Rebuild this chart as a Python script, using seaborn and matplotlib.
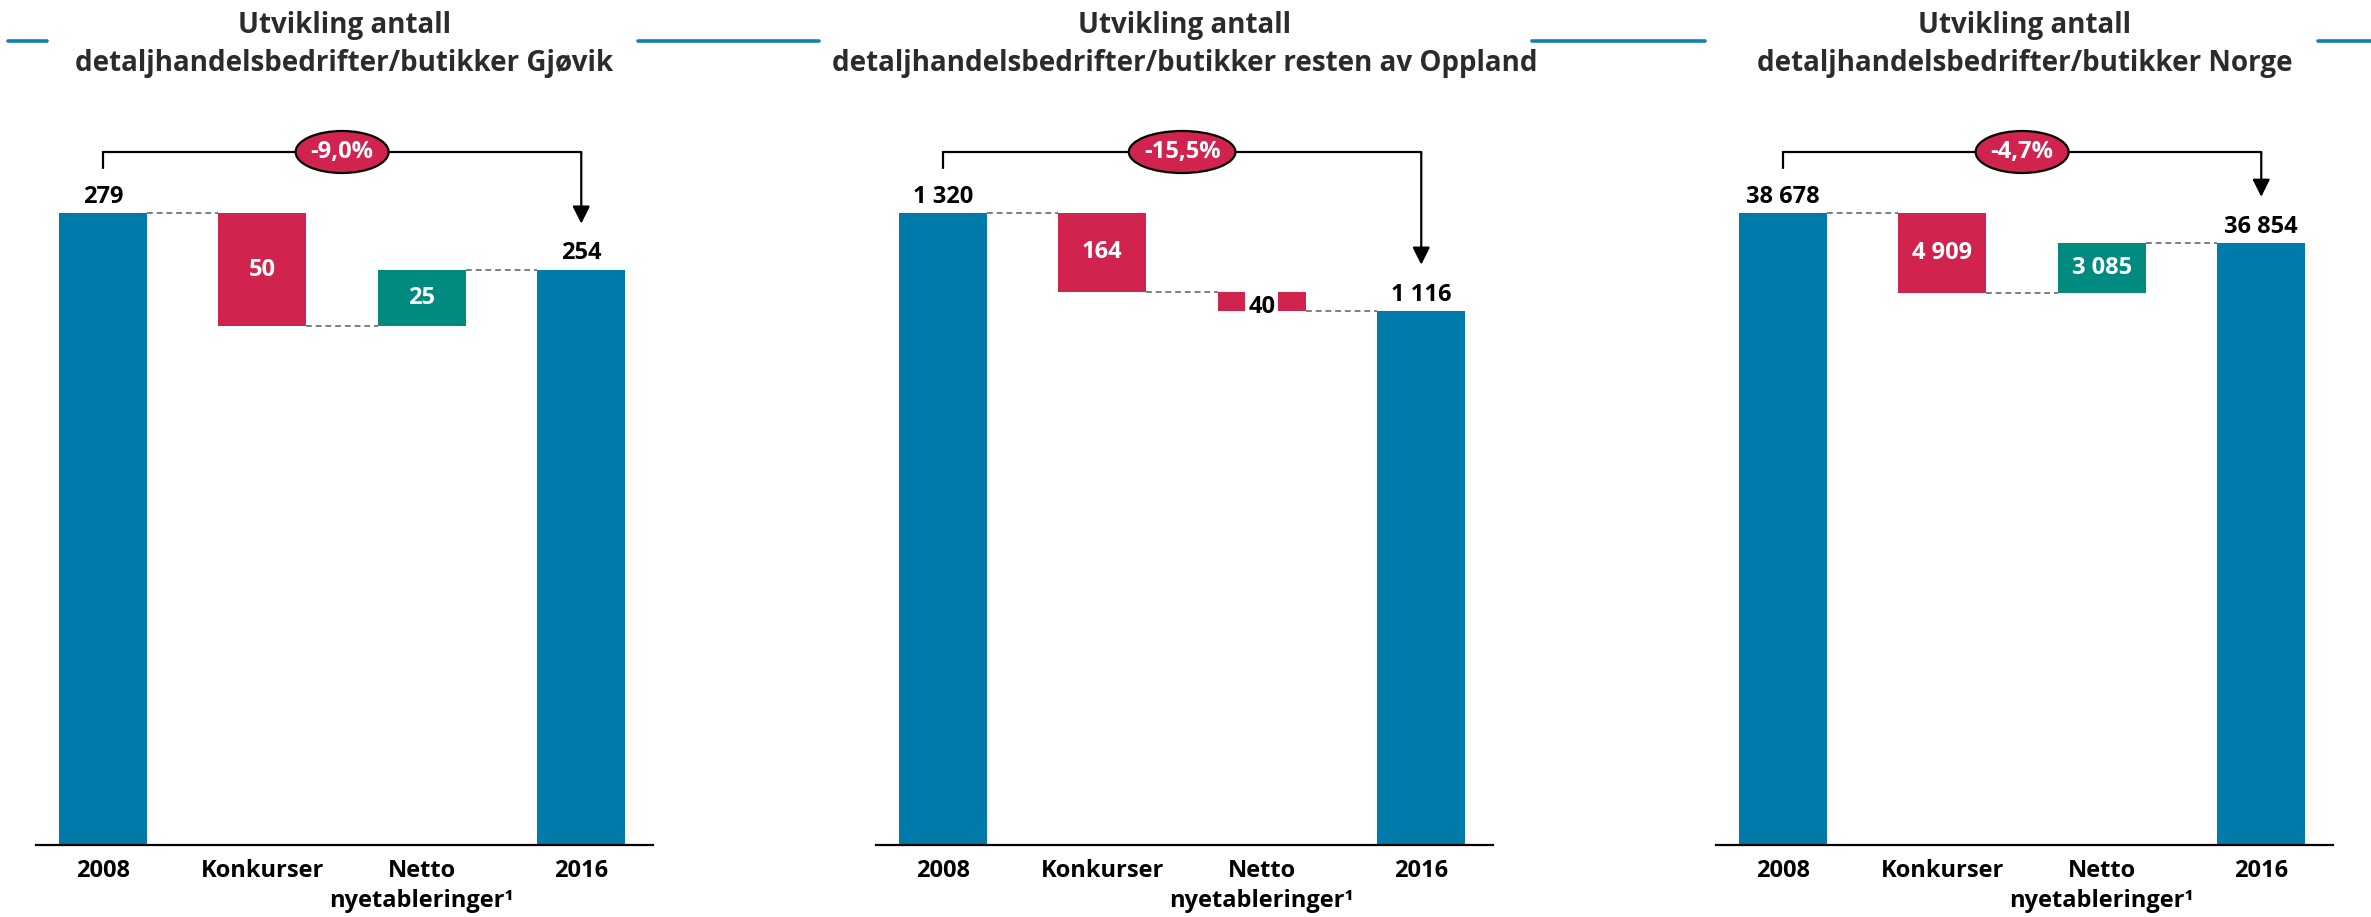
import numpy as np
import pandas as pd
import matplotlib
matplotlib.use("Agg")
import matplotlib.pyplot as plt
from matplotlib.lines import Line2D
from matplotlib.patches import Ellipse
from matplotlib.transforms import IdentityTransform
import seaborn as sns

# -----------------------------
cats = ["2008", "Konkurser", "Netto\nnyetableringer\u00b9", "2016"]
title_top = ["Utvikling antall"] * 3
title_bottom = ["detaljhandelsbedrifter/butikker Gj\u00f8vik",
                "detaljhandelsbedrifter/butikker resten av Oppland",
                "detaljhandelsbedrifter/butikker Norge"]
start_vals = [279, 1320, 38678]
konkurs_vals = [50, 164, 4909]
netto_vals = [25, -40, 3085]
end_vals = [254, 1116, 36854]
pct_labels = ["-9,0%", "-15,5%", "-4,7%"]

BLUE = "#007aa8"
RED = "#d0244e"
TEAL = "#008a80"
HEAD = "#0b82b3"
FONT = "Open Sans"
FS = 17

sns.set_theme(style="white")
plt.rcParams['font.family'] = [FONT, 'DejaVu Sans']
plt.rcParams['font.weight'] = 'bold'

W, H = 2371, 917
fig = plt.figure(figsize=(W / 100, H / 100), dpi=100)
renderer = fig.canvas.get_renderer()

def fmt(v):
    return f"{abs(v):,}".replace(",", " ")

ax_left0, ax_w, step = 36, 617, 840
base_px, top_px, bar_top_px = 845, 100, 213
bw = 0.552

for k in range(3):
    s, kon, net, e = start_vals[k], konkurs_vals[k], netto_vals[k], end_vals[k]
    after_kon = s - kon
    tops = [s, s, max(after_kon, e), e]
    bottoms = [0, after_kon, min(after_kon, e), 0]
    colors = [BLUE, RED, TEAL if net > 0 else RED, BLUE]
    df = pd.DataFrame({"cat": cats, "top": tops, "bottom": bottoms})

    left = (ax_left0 + k * step) / W
    ax = fig.add_axes([left, 1 - base_px / H, ax_w / W, (base_px - top_px) / H])
    sns.barplot(data=df, x="cat", y="top", hue="cat", palette=colors, legend=False,
                saturation=1, width=bw, ax=ax, linewidth=0)
    sns.barplot(data=df, x="cat", y="bottom", color="white", saturation=1,
                width=bw, ax=ax, linewidth=0)

    ymax = s * (base_px - top_px) / (base_px - bar_top_px)
    upp = s / (base_px - bar_top_px)   # data units per pixel
    ax.set_ylim(0, ymax)
    ax.set_xlim(-0.42, 3.45)
    ax.set_xlabel("")
    ax.set_ylabel("")
    ax.set_yticks([])
    for sp in ["left", "right", "top"]:
        ax.spines[sp].set_visible(False)
    ax.spines["bottom"].set_color("black")
    ax.spines["bottom"].set_linewidth(1.6)
    ax.tick_params(axis="x", length=0, pad=10)
    for lab in ax.get_xticklabels():
        lab.set_fontsize(FS)
        lab.set_fontweight("bold")
        lab.set_color("black")
        lab.set_linespacing(1.35)

    # connectors
    levels = [s, after_kon, e]
    for i, lv in enumerate(levels):
        ax.plot([i + bw / 2, i + 1 - bw / 2], [lv, lv], color="#7f7f7f",
                lw=1.4, ls=(0, (3, 2)), zorder=3)

    # labels above totals
    for i, v in [(0, s), (3, e)]:
        ax.annotate(fmt(v), (i, v), xytext=(0, 3), textcoords="offset points",
                    ha="center", va="bottom", fontsize=FS, fontweight="bold",
                    color="black")

    # labels inside delta bars
    for i, v in [(1, kon), (2, net)]:
        yc = (tops[i] + bottoms[i]) / 2
        if abs(v) / upp > 30:
            ax.text(i, yc, fmt(v), ha="center", va="center", fontsize=FS,
                    fontweight="bold", color="white", zorder=4)
        else:
            ax.text(i, yc - 6 * upp, fmt(v), ha="center", va="center", fontsize=FS,
                    fontweight="bold", color="black", zorder=4,
                    bbox=dict(boxstyle="square,pad=0.12", fc="white", ec="none"))

    # bracket with arrow
    br_y = s + (bar_top_px - 152) * upp
    left_bot = s + 45 * upp
    tip = e + 46 * upp
    ax.plot([0, 0, 3], [left_bot, br_y, br_y], color="black", lw=1.6,
            solid_joinstyle="miter", clip_on=False)
    ax.annotate("", xy=(3, tip), xytext=(3, br_y),
                arrowprops=dict(arrowstyle="-|>,head_length=0.7,head_width=0.35",
                                lw=1.6, color="black", shrinkA=0, shrinkB=0,
                                mutation_scale=15), annotation_clip=False)
    pt = ax.text(1.5, br_y, pct_labels[k], ha="center", va="center", fontsize=FS,
                 fontweight="bold", color="white", zorder=6)
    bb = pt.get_window_extent(renderer)
    centre = ax.transData.transform((1.5, br_y))
    ax.add_patch(Ellipse(centre, bb.width + 30, 42, transform=IdentityTransform(),
                         fc=RED, ec="black", lw=1.6, zorder=5, clip_on=False))

    # titles
    cx = (ax_left0 + k * step + ax_w / 2) / W
    fig.text(cx, 1 - 26 / H, title_top[k], ha="center", va="center",
             fontsize=20, fontweight="bold", color="#2b2b2b")
    fig.text(cx, 1 - 63 / H, title_bottom[k], ha="center", va="center",
             fontsize=20, fontweight="bold", color="#2b2b2b")

# header rules
for x0, x1 in [(8, 47), (638, 819), (1532, 1705), (2318, 2371)]:
    fig.add_artist(Line2D([x0 / W, x1 / W], [1 - 41 / H, 1 - 41 / H],
                          color=HEAD, lw=2.6, transform=fig.transFigure))

fig.savefig("out.png", dpi=100)
